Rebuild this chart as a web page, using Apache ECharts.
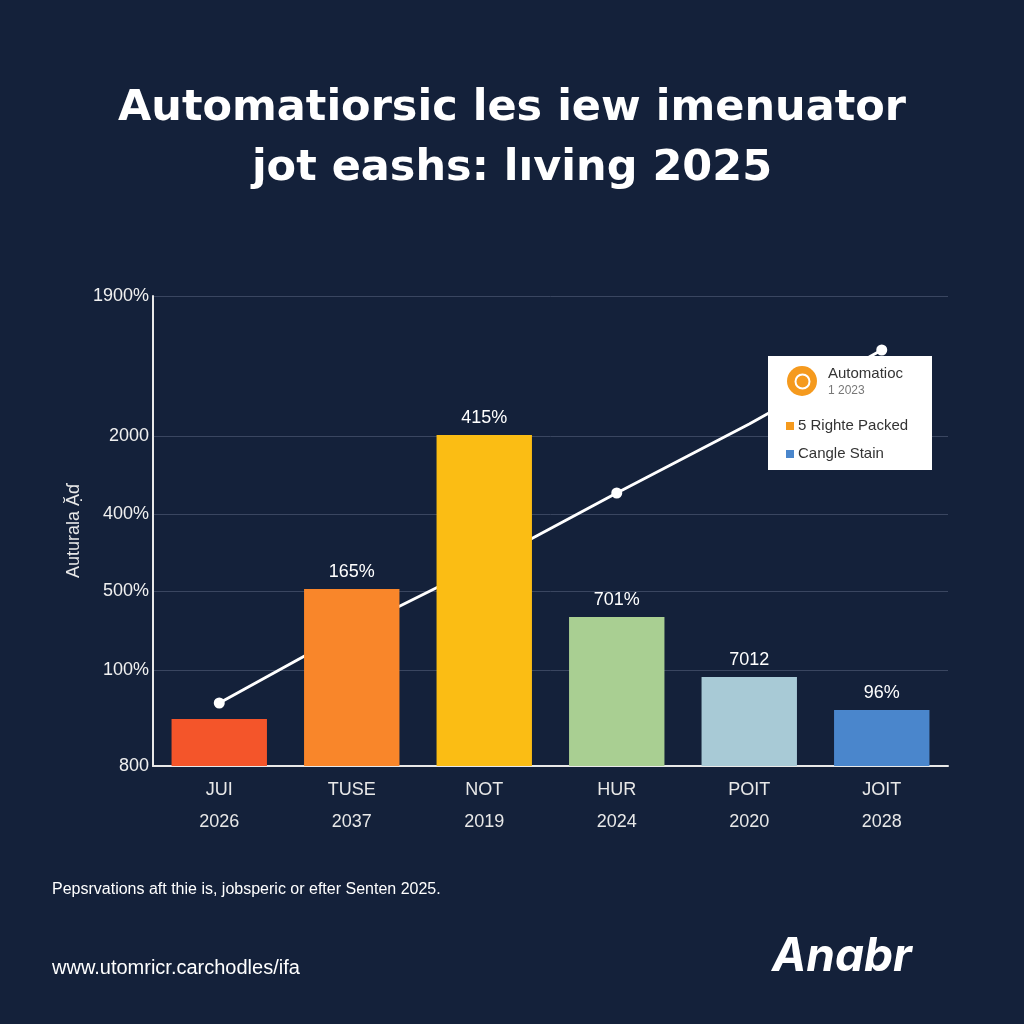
<!DOCTYPE html>
<html><head><meta charset="utf-8">
<script src="https://cdn.jsdelivr.net/npm/echarts@6/dist/echarts.min.js"></script>
<style>html,body{margin:0;padding:0;background:#14213a}#c{width:1024px;height:1024px}</style>
</head><body><div id="c"></div>
<script>
const categories = ['JUI\n\n2026','TUSE\n\n2037','NOT\n\n2019','HUR\n\n2024','POIT\n\n2020','JOIT\n\n2028'];
const barValues = [47,177,331,149,89,56];
const barLabels = ['','165%','415%','701%','7012','96%'];
const barColors = ['#f4552a','#f9862a','#fbbd14','#a9cf92','#a8cad6','#4a86cc'];
const lineValues = [63,136,202,273,342,416];
const lineShown = [true,true,false,true,false,true];
const gridValues = [0,96,175,252,330,470];
const gridLabels = ['800','100%','500%','400%','2000','1900%'];

const Z = {zlevel:1, z:100};
const chart = echarts.init(document.getElementById('c'));
chart.setOption({
  backgroundColor:'#14213a',
  title:{text:'Automatiorsic les iew imenuator\njot eashs: lıving 2025',left:'center',top:74,
    textStyle:{color:'#fff',fontSize:43,fontWeight:'bold',fontFamily:'DejaVu Sans',lineHeight:60}},
  grid:{left:153,right:76,top:296,bottom:258},
  xAxis:{type:'category',data:categories,
    axisLine:{lineStyle:{color:'#e8e8e8',width:2}},axisTick:{show:false},
    axisLabel:{color:'#e8e8e8',fontSize:18,fontFamily:'Liberation Sans',margin:16,lineHeight:16}},
  yAxis:{type:'value',min:0,max:470,interval:470,
    name:'Auturala Ặɗ',nameLocation:'middle',nameGap:70,nameTextStyle:{color:'#e8e8e8',fontSize:18},
    axisLine:{show:true,lineStyle:{color:'#e8e8e8',width:2}},axisTick:{show:false},
    axisLabel:{show:false},splitLine:{show:false}},
  series:[
    {type:'bar',z:5,data:barValues.map((v,i)=>({value:v,itemStyle:{color:barColors[i]},
      label:{show:!!barLabels[i],formatter:barLabels[i]}})),
     barWidth:'72%',label:{position:'top',color:'#fff',fontSize:18,distance:8}},
    {type:'line',z:1,data:lineValues.map((v,i)=>({value:v,symbolSize:lineShown[i]?11:0})),
     symbol:'circle',lineStyle:{color:'#fff',width:3},itemStyle:{color:'#fff'},
     markLine:{silent:true,symbol:'none',z:0,
       lineStyle:{color:'#3a4660',type:'solid',width:1},
       label:{position:'start',color:'#f0f0f0',fontSize:18,distance:4},
       data:gridValues.map((v,i)=>({yAxis:v,label:{formatter:gridLabels[i]}}))}}
  ],
  graphic:[
    {type:'rect',...Z,left:768,top:356,shape:{width:164,height:114},style:{fill:'#fff'}},
    {type:'circle',...Z,left:787,top:366,shape:{r:15},style:{fill:'#f59a1e'}},
    {type:'circle',...Z,left:793,top:372,shape:{r:7},style:{fill:'none',stroke:'#fff',lineWidth:2}},
    {type:'text',...Z,left:828,top:366,style:{text:'Automatioc',fill:'#333',font:'15px Liberation Sans'}},
    {type:'text',...Z,left:828,top:385,style:{text:'1 2023',fill:'#777',font:'12px Liberation Sans'}},
    {type:'rect',...Z,left:786,top:422,shape:{width:8,height:8},style:{fill:'#f59a1e'}},
    {type:'text',...Z,left:798,top:418,style:{text:'5 Righte Packed',fill:'#333',font:'15px Liberation Sans'}},
    {type:'rect',...Z,left:786,top:450,shape:{width:8,height:8},style:{fill:'#4a86cc'}},
    {type:'text',...Z,left:798,top:446,style:{text:'Cangle Stain',fill:'#333',font:'15px Liberation Sans'}},
    {type:'text',left:52,top:882,style:{text:'Pepsrvations aft thie is, jobsperic or efter Senten 2025.',fill:'#fff',font:'16px Liberation Sans'}},
    {type:'text',left:52,top:958,style:{text:'www.utomricr.carchodles/ifa',fill:'#fff',font:'20px Liberation Sans'}},
    {type:'text',left:772,top:934,style:{text:'Anabr',fill:'#fff',font:'italic bold 46px Inter'}}
  ]
});
</script></body></html>
